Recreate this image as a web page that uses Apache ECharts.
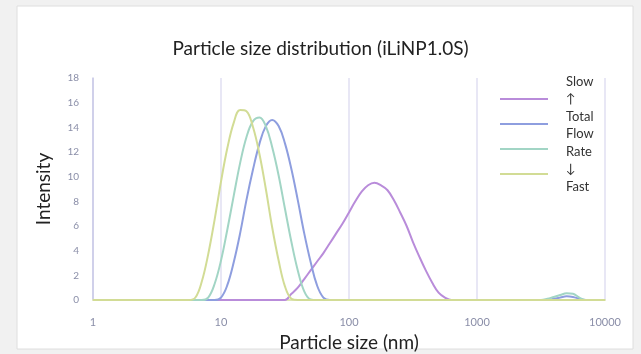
<!DOCTYPE html>
<html>
<head>
<meta charset="utf-8">
<script src="https://cdn.jsdelivr.net/npm/echarts@6/dist/echarts.min.js"></script>
<style>
  html, body { margin: 0; padding: 0; background: #f1f1f1; }
  #chart { width: 641px; height: 354px; }
</style>
</head>
<body>
<div id="chart"></div>
<script>
// particle size bins (nm), log spaced
const sizes = [1, 2, 3.98, 4.47, 5.01, 5.62, 6.31, 7.08, 7.94, 8.91,
  10, 11.2, 12.6, 14.1, 15.8, 17.8, 20, 22.4, 25.1, 28.2,
  31.6, 35.5, 39.8, 44.7, 50.1, 56.2, 63.1, 70.8, 79.4, 89.1,
  100, 112, 126, 141, 158, 178, 200, 224, 251, 282,
  316, 355, 398, 447, 501, 562, 631, 708, 794, 891,
  1000, 2000, 3160, 3550, 3980, 4470, 5010, 5620, 6310, 7080, 10000]

// intensity per flow rate
const slowVals = [0, 0, 0, 0, 0, 0, 0, 0, 0, 0,
  0, 0, 0, 0, 0, 0, 0, 0, 0, 0,
  0, 0.5, 1.0, 1.7, 2.4, 3.1, 3.8, 4.6, 5.4, 6.2,
  7.1, 8.0, 8.8, 9.3, 9.5, 9.3, 8.9, 8.1, 7.1, 6.0,
  4.7, 3.5, 2.4, 1.4, 0.6, 0.2, 0, 0, 0, 0,
  0, 0, 0, 0, 0, 0, 0, 0, 0, 0, 0]
const midSlowVals = [0, 0, 0, 0, 0, 0, 0, 0, 0, 0,
  0.2, 1.2, 3.1, 5.4, 8.1, 10.6, 12.7, 14.1, 14.6, 14.1,
  12.7, 10.6, 8.1, 5.4, 3.1, 1.2, 0.2, 0, 0, 0,
  0, 0, 0, 0, 0, 0, 0, 0, 0, 0,
  0, 0, 0, 0, 0, 0, 0, 0, 0, 0,
  0, 0, 0, 0, 0.1, 0.2, 0.3, 0.25, 0.1, 0, 0]
const midFastVals = [0, 0, 0, 0, 0, 0, 0, 0, 0.2, 1.3,
  3.2, 5.7, 8.5, 11.1, 13.2, 14.5, 14.8, 14.1, 12.4, 10.1,
  7.4, 4.7, 2.4, 0.7, 0.05, 0, 0, 0, 0, 0,
  0, 0, 0, 0, 0, 0, 0, 0, 0, 0,
  0, 0, 0, 0, 0, 0, 0, 0, 0, 0,
  0, 0, 0, 0.1, 0.25, 0.4, 0.55, 0.5, 0.2, 0, 0]
const fastVals = [0, 0, 0, 0, 0, 0, 0.2, 1.5, 3.7, 6.5,
  9.6, 12.3, 14.4, 15.4, 15.3, 14.0, 11.8, 9.0, 5.9, 3.2,
  1.1, 0.1, 0, 0, 0, 0, 0, 0, 0, 0,
  0, 0, 0, 0, 0, 0, 0, 0, 0, 0,
  0, 0, 0, 0, 0, 0, 0, 0, 0, 0,
  0, 0, 0, 0, 0, 0, 0, 0, 0, 0, 0]

const seriesNames = ['Slow', 'Mid-slow', 'Mid-fast', 'Fast']
const seriesColors = ['#b98cda', '#8e9edf', '#a2d5c5', '#d2dc95']
const seriesVals = [slowVals, midSlowVals, midFastVals, fastVals]
const legendTops = [93, 118, 143, 168]
const sideText = ['Slow', '↑', 'Total', 'Flow', 'Rate', '↓', 'Fast']

const font = 'Lato, "Open Sans", sans-serif'
const tickColor = '#8a8ea8'

const chart = echarts.init(document.getElementById('chart'))
chart.setOption({
  animation: false,
  backgroundColor: '#f1f1f1',
  graphic: [
    {
      type: 'rect',
      shape: { x: 17, y: 6, width: 616, height: 343 },
      style: { fill: '#ffffff', stroke: '#dedede', lineWidth: 1 },
      z: -10
    },
    {
      type: 'text',
      left: 566,
      top: 73,
      style: {
        text: sideText.join('\n'),
        font: '13px ' + font,
        fill: '#333',
        lineHeight: 17.5,
        align: 'center'
      }
    }
  ],
  title: {
    text: 'Particle size distribution (iLiNP1.0S)',
    left: 'center',
    top: 34,
    textStyle: { fontFamily: font, fontSize: 19, fontWeight: 'normal', color: '#222' }
  },
  legend: legendTops.map((t, i) => ({
    data: [seriesNames[i]],
    left: 495,
    top: t,
    icon: 'rect',
    itemWidth: 48,
    itemHeight: 2,
    formatter: () => '',
    textStyle: { fontSize: 6 }
  })),
  grid: { left: 93, right: 36, top: 78, bottom: 54, outerBoundsMode: 'none' },
  xAxis: {
    type: 'log',
    logBase: 10,
    min: 1,
    max: 10000,
    name: 'Particle size (nm)',
    nameLocation: 'middle',
    nameGap: 31,
    nameTextStyle: { fontFamily: font, fontSize: 19, color: '#222' },
    axisLine: { lineStyle: { color: '#dfe5b8', width: 2 } },
    axisTick: { show: false },
    axisLabel: { fontFamily: font, fontSize: 11, color: tickColor, margin: 17, formatter: v => String(v) },
    splitLine: { show: true, lineStyle: { color: '#e0dff2', width: 1.5 } }
  },
  yAxis: {
    type: 'value',
    min: 0,
    max: 18,
    interval: 2,
    name: 'Intensity',
    nameLocation: 'middle',
    nameGap: 40,
    nameTextStyle: { fontFamily: font, fontSize: 19, color: '#222' },
    axisLine: { show: true, lineStyle: { color: '#c9c9e6', width: 1.5 } },
    axisTick: { show: false },
    axisLabel: { fontFamily: font, fontSize: 10, color: tickColor, margin: 14 },
    splitLine: { show: false }
  },
  series: seriesNames.map((n, i) => ({
    name: n,
    type: 'line',
    showSymbol: false,
    smooth: 0.4,
    lineStyle: { width: 2, color: seriesColors[i] },
    itemStyle: { color: seriesColors[i] },
    data: sizes.map((s, k) => [s, seriesVals[i][k]])
  }))
})
</script>
</body>
</html>
